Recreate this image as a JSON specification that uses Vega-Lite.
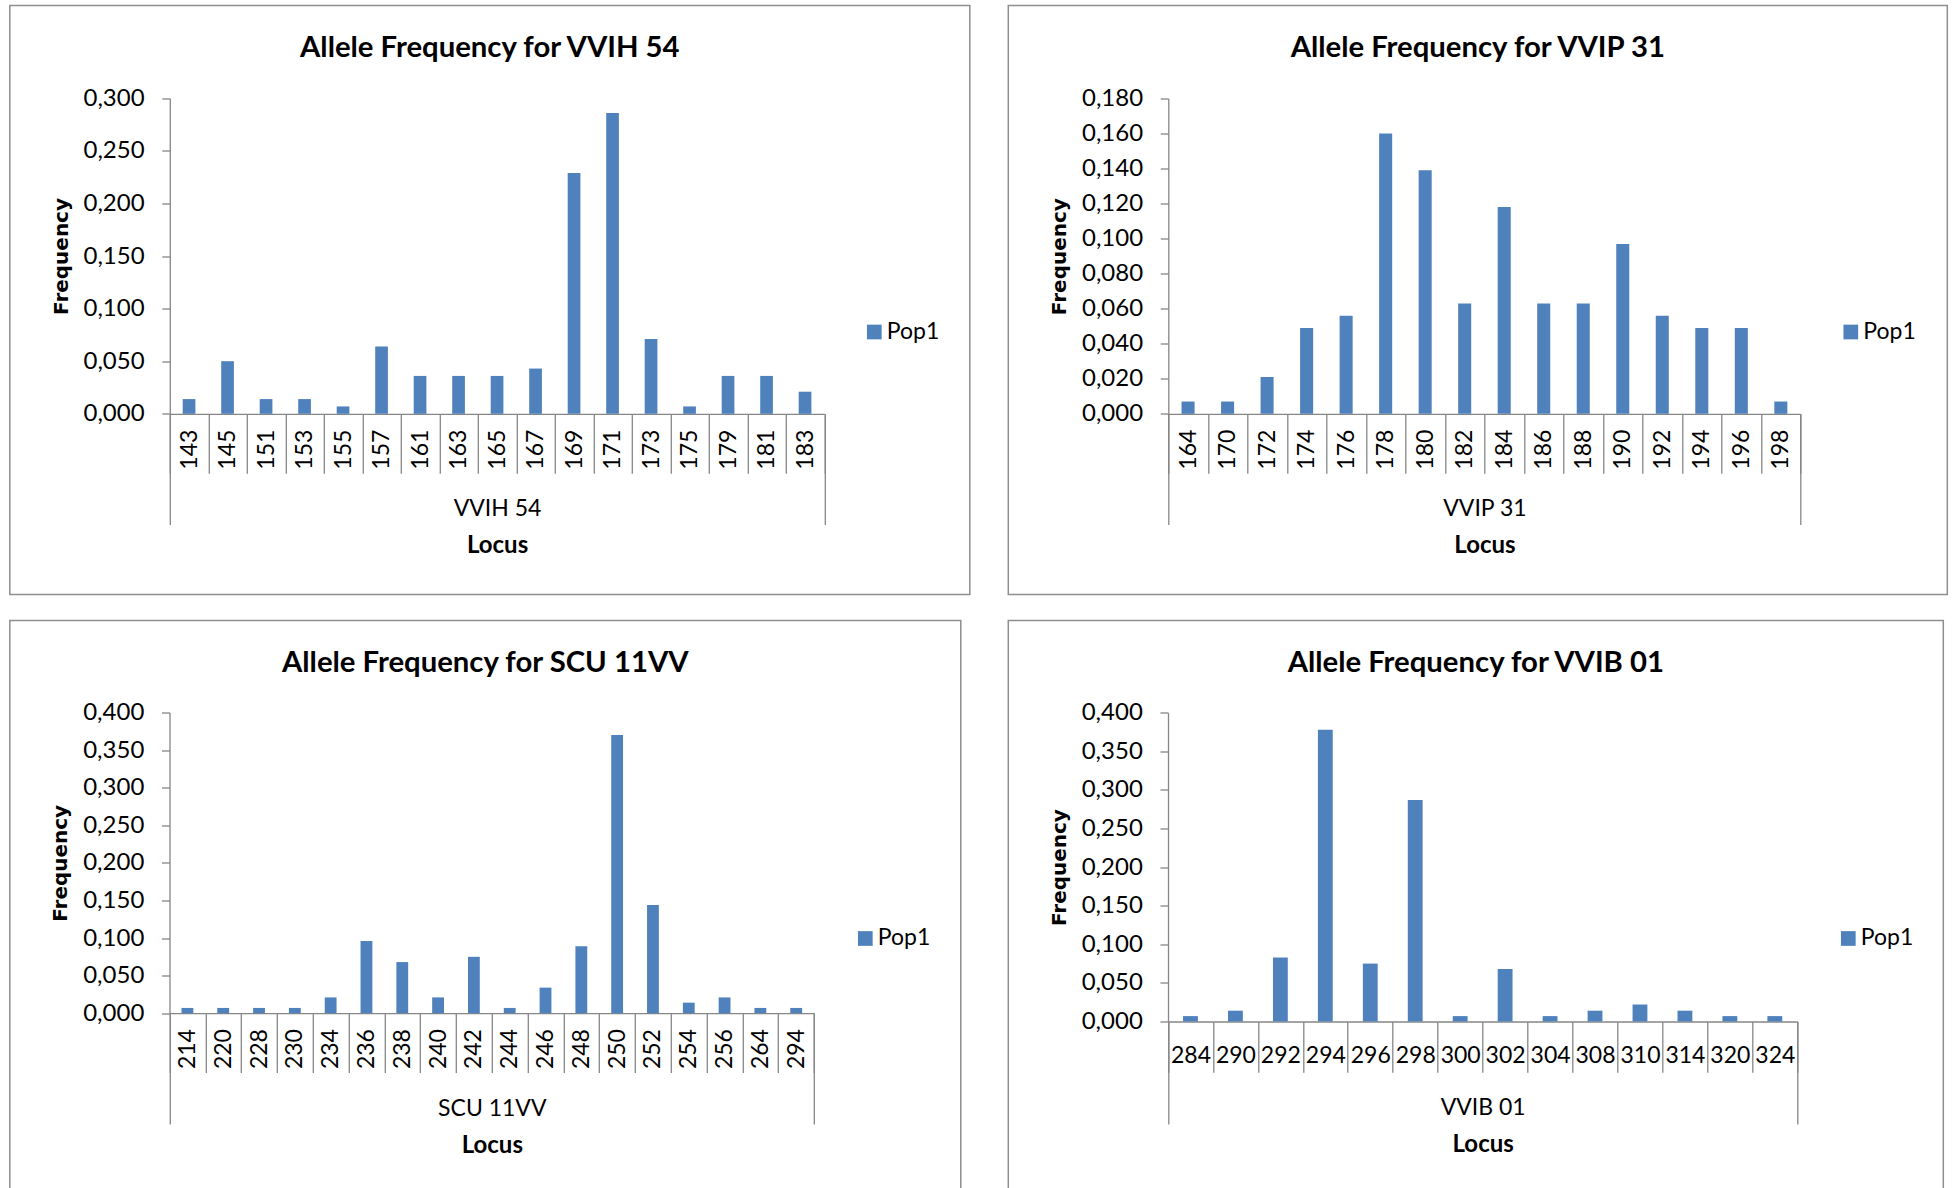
{
  "$schema": "https://vega.github.io/schema/vega-lite/v6.json",
  "background": "white",
  "autosize": {"type": "pad"},
  "padding": {"left": -2.2, "top": 4.5, "right": 0, "bottom": -52},
  "datasets": {
    "vvih54": [
      {"allele": "143", "frequency": 0.014, "population": "Pop1"},
      {"allele": "145", "frequency": 0.050, "population": "Pop1"},
      {"allele": "151", "frequency": 0.014, "population": "Pop1"},
      {"allele": "153", "frequency": 0.014, "population": "Pop1"},
      {"allele": "155", "frequency": 0.007, "population": "Pop1"},
      {"allele": "157", "frequency": 0.064, "population": "Pop1"},
      {"allele": "161", "frequency": 0.036, "population": "Pop1"},
      {"allele": "163", "frequency": 0.036, "population": "Pop1"},
      {"allele": "165", "frequency": 0.036, "population": "Pop1"},
      {"allele": "167", "frequency": 0.043, "population": "Pop1"},
      {"allele": "169", "frequency": 0.229, "population": "Pop1"},
      {"allele": "171", "frequency": 0.286, "population": "Pop1"},
      {"allele": "173", "frequency": 0.071, "population": "Pop1"},
      {"allele": "175", "frequency": 0.007, "population": "Pop1"},
      {"allele": "179", "frequency": 0.036, "population": "Pop1"},
      {"allele": "181", "frequency": 0.036, "population": "Pop1"},
      {"allele": "183", "frequency": 0.021, "population": "Pop1"}
    ],
    "vvip31": [
      {"allele": "164", "frequency": 0.007, "population": "Pop1"},
      {"allele": "170", "frequency": 0.007, "population": "Pop1"},
      {"allele": "172", "frequency": 0.021, "population": "Pop1"},
      {"allele": "174", "frequency": 0.049, "population": "Pop1"},
      {"allele": "176", "frequency": 0.056, "population": "Pop1"},
      {"allele": "178", "frequency": 0.160, "population": "Pop1"},
      {"allele": "180", "frequency": 0.139, "population": "Pop1"},
      {"allele": "182", "frequency": 0.063, "population": "Pop1"},
      {"allele": "184", "frequency": 0.118, "population": "Pop1"},
      {"allele": "186", "frequency": 0.063, "population": "Pop1"},
      {"allele": "188", "frequency": 0.063, "population": "Pop1"},
      {"allele": "190", "frequency": 0.097, "population": "Pop1"},
      {"allele": "192", "frequency": 0.056, "population": "Pop1"},
      {"allele": "194", "frequency": 0.049, "population": "Pop1"},
      {"allele": "196", "frequency": 0.049, "population": "Pop1"},
      {"allele": "198", "frequency": 0.007, "population": "Pop1"}
    ],
    "scu11vv": [
      {"allele": "214", "frequency": 0.007, "population": "Pop1"},
      {"allele": "220", "frequency": 0.007, "population": "Pop1"},
      {"allele": "228", "frequency": 0.007, "population": "Pop1"},
      {"allele": "230", "frequency": 0.007, "population": "Pop1"},
      {"allele": "234", "frequency": 0.021, "population": "Pop1"},
      {"allele": "236", "frequency": 0.096, "population": "Pop1"},
      {"allele": "238", "frequency": 0.068, "population": "Pop1"},
      {"allele": "240", "frequency": 0.021, "population": "Pop1"},
      {"allele": "242", "frequency": 0.075, "population": "Pop1"},
      {"allele": "244", "frequency": 0.007, "population": "Pop1"},
      {"allele": "246", "frequency": 0.034, "population": "Pop1"},
      {"allele": "248", "frequency": 0.089, "population": "Pop1"},
      {"allele": "250", "frequency": 0.370, "population": "Pop1"},
      {"allele": "252", "frequency": 0.144, "population": "Pop1"},
      {"allele": "254", "frequency": 0.014, "population": "Pop1"},
      {"allele": "256", "frequency": 0.021, "population": "Pop1"},
      {"allele": "264", "frequency": 0.007, "population": "Pop1"},
      {"allele": "294", "frequency": 0.007, "population": "Pop1"}
    ],
    "vvib01": [
      {"allele": "284", "frequency": 0.007, "population": "Pop1"},
      {"allele": "290", "frequency": 0.014, "population": "Pop1"},
      {"allele": "292", "frequency": 0.083, "population": "Pop1"},
      {"allele": "294", "frequency": 0.378, "population": "Pop1"},
      {"allele": "296", "frequency": 0.075, "population": "Pop1"},
      {"allele": "298", "frequency": 0.287, "population": "Pop1"},
      {"allele": "300", "frequency": 0.007, "population": "Pop1"},
      {"allele": "302", "frequency": 0.068, "population": "Pop1"},
      {"allele": "304", "frequency": 0.007, "population": "Pop1"},
      {"allele": "308", "frequency": 0.014, "population": "Pop1"},
      {"allele": "310", "frequency": 0.022, "population": "Pop1"},
      {"allele": "314", "frequency": 0.014, "population": "Pop1"},
      {"allele": "320", "frequency": 0.007, "population": "Pop1"},
      {"allele": "324", "frequency": 0.007, "population": "Pop1"}
    ]
  },
  "spacing": 24,
  "resolve": {"scale": {"color": "independent"}, "legend": {"color": "independent"}},
  "vconcat": [
    {
      "spacing": 25.5,
      "resolve": {"scale": {"color": "independent"}, "legend": {"color": "independent"}},
      "hconcat": [
        {
          "width": 960,
          "height": 589,
          "title": "Allele Frequency for VVIH 54",
          "data": {"name": "vvih54"},
          "layer": [
            {
              "mark": {"type": "bar", "width": {"band": 0.33}},
              "encoding": {
                "x": {
                  "field": "allele", "type": "nominal", "sort": null,
                  "scale": {"range": [160, 814.5], "paddingInner": 0, "paddingOuter": 0},
                  "axis": {"orient": "bottom", "offset": -180.7, "title": "VVIH 54", "labelAngle": 270, "tickSize": 59.4, "labelPadding": -44, "titlePadding": 24}
                },
                "y": {
                  "field": "frequency", "type": "quantitative",
                  "scale": {"domain": [0, 0.3], "range": [408.3, 92.7], "nice": false},
                  "axis": {"offset": -160, "title": "Frequency", "values": [0, 0.05, 0.1, 0.15, 0.2, 0.25, 0.3]}
                },
                "color": {
                  "field": "population", "type": "nominal",
                  "scale": {"range": ["#4F81BD"]},
                  "legend": {"orient": "none", "legendX": 853, "legendY": 315}
                }
              }
            },
            {
              "mark": {"type": "bar", "opacity": 0},
              "encoding": {
                "x": {
                  "field": "allele", "type": "nominal", "sort": null,
                  "axis": {"orient": "bottom", "offset": -180.7, "title": "Locus", "labels": false, "domain": false, "tickSize": 110.7, "titlePadding": 8.5, "titleFontWeight": "bold", "titleFontSize": 24,
                    "tickOpacity": {"condition": {"test": "datum.index < 0 || datum.extra || datum.index === 1", "value": 1}, "value": 0}}
                }
              }
            }
          ],
          "resolve": {"axis": {"x": "independent"}}
        },
        {
          "width": 939,
          "height": 589,
          "title": "Allele Frequency for VVIP 31",
          "data": {"name": "vvip31"},
          "layer": [
            {
              "mark": {"type": "bar", "width": {"band": 0.33}},
              "encoding": {
                "x": {
                  "field": "allele", "type": "nominal", "sort": null,
                  "scale": {"range": [160, 792.3], "paddingInner": 0, "paddingOuter": 0},
                  "axis": {"orient": "bottom", "offset": -180.7, "title": "VVIP 31", "labelAngle": 270, "tickSize": 59.4, "labelPadding": -44, "titlePadding": 24}
                },
                "y": {
                  "field": "frequency", "type": "quantitative",
                  "scale": {"domain": [0, 0.18], "range": [408.3, 93], "nice": false},
                  "axis": {"offset": -160, "title": "Frequency", "values": [0, 0.02, 0.04, 0.06, 0.08, 0.1, 0.12, 0.14, 0.16, 0.18]}
                },
                "color": {
                  "field": "population", "type": "nominal",
                  "scale": {"range": ["#4F81BD"]},
                  "legend": {"orient": "none", "legendX": 831, "legendY": 315}
                }
              }
            },
            {
              "mark": {"type": "bar", "opacity": 0},
              "encoding": {
                "x": {
                  "field": "allele", "type": "nominal", "sort": null,
                  "axis": {"orient": "bottom", "offset": -180.7, "title": "Locus", "labels": false, "domain": false, "tickSize": 110.7, "titlePadding": 8.5, "titleFontWeight": "bold", "titleFontSize": 24,
                    "tickOpacity": {"condition": {"test": "datum.index < 0 || datum.extra || datum.index === 1", "value": 1}, "value": 0}}
                }
              }
            }
          ],
          "resolve": {"axis": {"x": "independent"}}
        }
      ]
    },
    {
      "spacing": 45.5,
      "resolve": {"scale": {"color": "independent"}, "legend": {"color": "independent"}},
      "hconcat": [
        {
          "width": 951,
          "height": 620,
          "title": "Allele Frequency for SCU 11VV",
          "data": {"name": "scu11vv"},
          "layer": [
            {
              "mark": {"type": "bar", "width": {"band": 0.33}},
              "encoding": {
                "x": {
                  "field": "allele", "type": "nominal", "sort": null,
                  "scale": {"range": [159.7, 804.3], "paddingInner": 0, "paddingOuter": 0},
                  "axis": {"orient": "bottom", "offset": -227.3, "title": "SCU 11VV", "labelAngle": 270, "tickSize": 59.4, "labelPadding": -44, "titlePadding": 24}
                },
                "y": {
                  "field": "frequency", "type": "quantitative",
                  "scale": {"domain": [0, 0.4], "range": [392.7, 92], "nice": false},
                  "axis": {"offset": -159.7, "title": "Frequency", "values": [0, 0.05, 0.1, 0.15, 0.2, 0.25, 0.3, 0.35, 0.4]}
                },
                "color": {
                  "field": "population", "type": "nominal",
                  "scale": {"range": ["#4F81BD"]},
                  "legend": {"orient": "none", "legendX": 844, "legendY": 306.5}
                }
              }
            },
            {
              "mark": {"type": "bar", "opacity": 0},
              "encoding": {
                "x": {
                  "field": "allele", "type": "nominal", "sort": null,
                  "axis": {"orient": "bottom", "offset": -227.3, "title": "Locus", "labels": false, "domain": false, "tickSize": 110.7, "titlePadding": 8.5, "titleFontWeight": "bold", "titleFontSize": 24,
                    "tickOpacity": {"condition": {"test": "datum.index < 0 || datum.extra || datum.index === 1", "value": 1}, "value": 0}}
                }
              }
            }
          ],
          "resolve": {"axis": {"x": "independent"}}
        },
        {
          "width": 935,
          "height": 620,
          "title": "Allele Frequency for VVIB 01",
          "data": {"name": "vvib01"},
          "layer": [
            {
              "mark": {"type": "bar", "width": {"band": 0.33}},
              "encoding": {
                "x": {
                  "field": "allele", "type": "nominal", "sort": null,
                  "scale": {"range": [159.7, 789], "paddingInner": 0, "paddingOuter": 0},
                  "axis": {"orient": "bottom", "offset": -219, "title": "VVIB 01", "labelAngle": 0, "tickSize": 50.7, "labelPadding": -27.4, "titlePadding": 24}
                },
                "y": {
                  "field": "frequency", "type": "quantitative",
                  "scale": {"domain": [0, 0.4], "range": [401, 92.2], "nice": false},
                  "axis": {"offset": -159.7, "title": "Frequency", "values": [0, 0.05, 0.1, 0.15, 0.2, 0.25, 0.3, 0.35, 0.4]}
                },
                "color": {
                  "field": "population", "type": "nominal",
                  "scale": {"range": ["#4F81BD"]},
                  "legend": {"orient": "none", "legendX": 828.5, "legendY": 306.5}
                }
              }
            },
            {
              "mark": {"type": "bar", "opacity": 0},
              "encoding": {
                "x": {
                  "field": "allele", "type": "nominal", "sort": null,
                  "axis": {"orient": "bottom", "offset": -219, "title": "Locus", "labels": false, "domain": false, "tickSize": 102.5, "titlePadding": 8, "titleFontWeight": "bold", "titleFontSize": 24,
                    "tickOpacity": {"condition": {"test": "datum.index < 0 || datum.extra || datum.index === 1", "value": 1}, "value": 0}}
                }
              }
            }
          ],
          "resolve": {"axis": {"x": "independent"}}
        }
      ]
    }
  ],
  "config": {
    "view": {"stroke": "#8f8f8f", "strokeWidth": 1.5},
    "font": "Lato",
    "title": {"font": "Lato", "fontSize": 29.3, "fontWeight": "bold", "color": "#000000", "anchor": "middle", "frame": "group", "offset": -57.5},
    "axis": {
      "grid": false,
      "domainColor": "#868686", "domainWidth": 1.3,
      "tickColor": "#868686", "tickWidth": 1.3,
      "labelColor": "#000000", "labelFont": "Lato", "labelFontSize": 23,
      "titleColor": "#000000", "titleFont": "Lato", "titleFontSize": 23, "titleFontWeight": "normal",
      "labelOverlap": false
    },
    "axisX": {"tickBand": "extent"},
    "axisY": {
      "tickSize": 8, "labelPadding": 17.7, "labelFontSize": 24,
      "titleFont": "DejaVu Sans", "titleFontWeight": "bold", "titleFontSize": 20, "titlePadding": 11.8,
      "labelExpr": "replace(format(datum.value, '.3f'), '.', ',')"
    },
    "legend": {
      "title": null, "padding": 0,
      "labelFont": "Lato", "labelFontSize": 23, "labelColor": "#000000", "labelOffset": 1,
      "symbolType": "square", "symbolSize": 216, "symbolStrokeWidth": 0, "symbolOpacity": 1
    }
  }
}
